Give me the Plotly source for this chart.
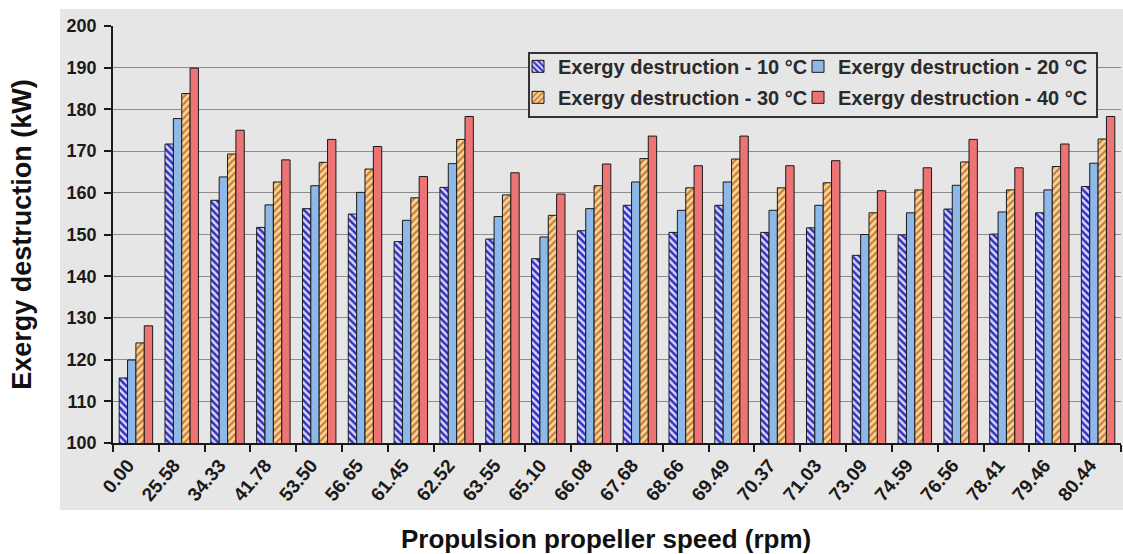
import plotly.graph_objects as go

categories = ["0.00", "25.58", "34.33", "41.78", "53.50", "56.65", "61.45", "62.52",
              "63.55", "65.10", "66.08", "67.68", "68.66", "69.49", "70.37", "71.03",
              "73.09", "74.59", "76.56", "78.41", "79.46", "80.44"]

ed_10 = [115.6, 171.7, 158.2, 151.7, 156.2, 154.9, 148.3, 161.3, 148.9, 144.2, 150.9,
         157.0, 150.5, 157.0, 150.5, 151.6, 145.0, 149.9, 156.1, 150.1, 155.2, 161.5]
ed_20 = [119.9, 177.8, 163.8, 157.1, 161.7, 160.1, 153.4, 167.0, 154.3, 149.4, 156.2,
         162.6, 155.8, 162.6, 155.8, 157.0, 150.0, 155.2, 161.8, 155.4, 160.7, 167.1]
ed_30 = [124.0, 183.8, 169.3, 162.6, 167.3, 165.7, 158.8, 172.8, 159.5, 154.6, 161.7,
         168.2, 161.2, 168.1, 161.2, 162.4, 155.2, 160.7, 167.4, 160.7, 166.3, 172.9]
ed_40 = [128.1, 189.9, 175.0, 167.9, 172.8, 171.1, 163.9, 178.3, 164.8, 159.7, 166.9,
         173.6, 166.5, 173.6, 166.5, 167.7, 160.5, 166.0, 172.8, 166.0, 171.7, 178.3]

series_names = ["Exergy destruction - 10 °C", "Exergy destruction - 20 °C",
                "Exergy destruction - 30 °C", "Exergy destruction - 40 °C"]

FONT = "Liberation Sans, Arial, sans-serif"
BG = "#e6e6e6"
OUTLINE = dict(color="#1a1a1a", width=1)

fig = go.Figure()
fig.add_trace(go.Bar(
    x=categories, y=ed_10, name=series_names[0], legend="legend", legendgroup="a",
    marker=dict(color="#d4d4ff", line=OUTLINE,
                pattern=dict(shape="\\", fgcolor="#3030c0", bgcolor="#d8d8ff",
                             size=5, solidity=0.5, fillmode="replace"))))
fig.add_trace(go.Bar(
    x=categories, y=ed_20, name=series_names[1], legend="legend2", legendgroup="b",
    marker=dict(color="#8db8e8", line=OUTLINE)))
fig.add_trace(go.Bar(
    x=categories, y=ed_30, name=series_names[2], legend="legend", legendgroup="c",
    marker=dict(color="#fcca8c", line=OUTLINE,
                pattern=dict(shape="/", fgcolor="#c57f35", bgcolor="#fdd39c",
                             size=5, solidity=0.45, fillmode="replace"))))
fig.add_trace(go.Bar(
    x=categories, y=ed_40, name=series_names[3], legend="legend2", legendgroup="d",
    marker=dict(color="#ec7474", line=OUTLINE)))

legend_common = dict(
    font=dict(family=FONT, size=20, color="#2a2a2a", weight="bold"),
    bgcolor="rgba(0,0,0,0)", borderwidth=0, orientation="v",
    traceorder="grouped", tracegroupgap=2,
    xanchor="left", yanchor="top", y=0.95,
)

fig.update_layout(
    width=1123, height=554,
    margin=dict(l=113, r=2, t=26, b=111),
    paper_bgcolor="white", plot_bgcolor=BG,
    barmode="group", bargap=0.27, bargroupgap=0,
    font=dict(family=FONT, color="#1a1a1a"),
    legend=dict(x=(518 - 113) / 1008, **legend_common),
    legend2=dict(x=(798 - 113) / 1008, **legend_common),
    xaxis=dict(
        type="category", tickson="boundaries", ticks="outside", ticklen=7,
        tickcolor="#1a1a1a", tickwidth=1.5,
        showline=True, linecolor="#1a1a1a", linewidth=1.5, showgrid=False,
        tickangle=-50, ticklabelshift=-8, ticklabelstandoff=2,
        tickfont=dict(family=FONT, size=19, color="#1a1a1a", weight="bold"),
    ),
    yaxis=dict(
        range=[100, 200], dtick=10, ticks="outside", ticklen=7,
        tickcolor="#1a1a1a", tickwidth=1.5,
        showline=True, linecolor="#1a1a1a", linewidth=1.5,
        showgrid=True, gridcolor="#8c8c8c", gridwidth=1, zeroline=False,
        ticklabelstandoff=4,
        tickfont=dict(family=FONT, size=18, color="#1a1a1a", weight="bold"),
        title=dict(text="Exergy destruction (kW)", standoff=27,
                   font=dict(family=FONT, size=27, color="#111111", weight="bold")),
    ),
    shapes=[
        dict(type="rect", xref="paper", yref="paper", layer="below",
             x0=(60 - 113) / 1008, x1=(1123 - 113) / 1008,
             y0=(443 - 510) / 417, y1=(443 - 9) / 417,
             fillcolor=BG, line=dict(width=0)),
        dict(type="rect", xref="paper", yref="paper", layer="above",
             x0=(529 - 113) / 1008, x1=(1097 - 113) / 1008,
             y0=(443 - 117) / 417, y1=(443 - 53) / 417,
             fillcolor=BG, line=dict(color="#333333", width=2)),
    ],
    annotations=[
        dict(text="Propulsion propeller speed (rpm)", xref="paper", yref="paper",
             x=(606 - 113) / 1008, y=(443 - 539) / 417, xanchor="center", yanchor="middle",
             showarrow=False,
             font=dict(family=FONT, size=26, color="#111111", weight="bold")),
    ],
)

fig.write_html(
    "out.html",
    config={"displayModeBar": False},
    post_script="document.body.style.margin='0';document.body.style.overflow='hidden';",
)
